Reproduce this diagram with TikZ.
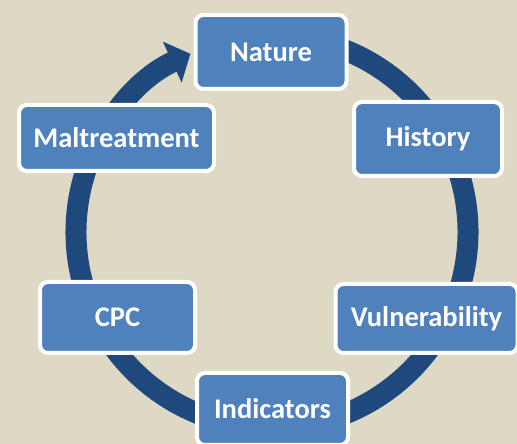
\documentclass[tikz,border=0pt]{standalone}
\usepackage{fontspec}
\setmainfont{Carlito}
\usetikzlibrary{arrows.meta}

\definecolor{bgtan}{HTML}{DDD9C4}
\definecolor{ringblue}{HTML}{1F497D}
\definecolor{boxblue}{HTML}{4F81BD}

\tikzset{
  stage/.style={draw=white, line width=4pt, fill=boxblue, rounded corners=8pt,
    text=white, inner sep=0pt, font=\fontsize{28.5}{34}\selectfont\bfseries},
}

\begin{document}
\begin{tikzpicture}[x=1pt,y=1pt]
        % Sfondo
        \fill[bgtan] (0,0) rectangle (517,444);
        \useasboundingbox (0,0) rectangle (517,444);

        % Anello con freccia
        \coordinate (hub) at (272,212);
        \draw[ringblue, line width=21pt, -{Triangle[width=44pt,length=20pt]}]
            (hub) ++(80:196) arc[start angle=80, end angle=-245.4, radius=196];

        % Fasi
        \node[stage, minimum width=151pt, minimum height=74pt] (nature) at (271,392) {Nature};
        \node[stage, minimum width=148pt, minimum height=74pt] (history) at (428,305) {History};
        \node[stage, minimum width=182pt, minimum height=69pt] (vulnerability) at (426.5,125.5) {Vulnerability};
        \node[stage, minimum width=151pt, minimum height=72pt] (indicators) at (272.5,35) {Indicators};
        \node[stage, minimum width=155pt, minimum height=71pt] (cpc) at (117.5,126.5) {CPC};
        \node[stage, minimum width=195pt, minimum height=66pt] (maltreatment) at (116.5,306) {Maltreatment};
\end{tikzpicture}
\end{document}
